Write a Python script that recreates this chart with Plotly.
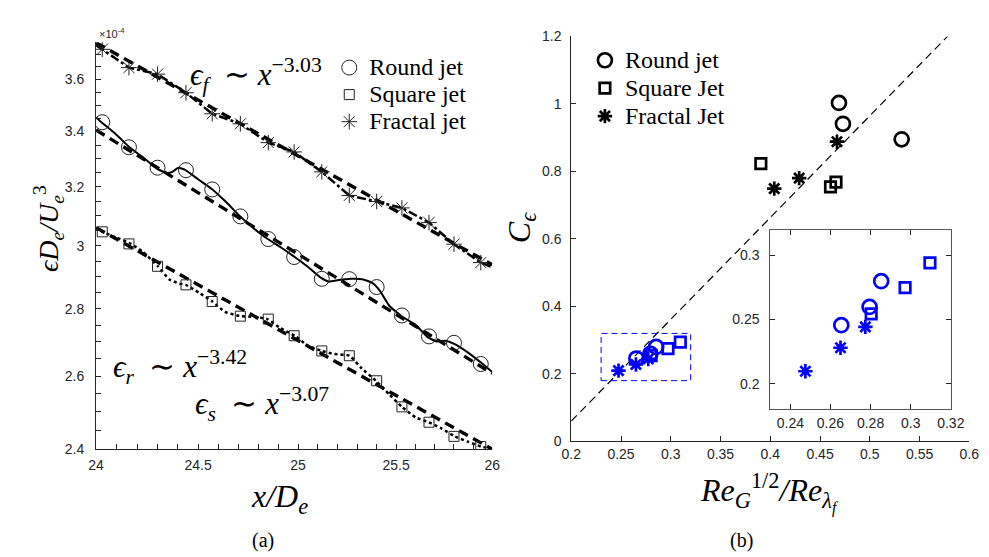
import math
import plotly.graph_objects as go

# ---------------- Panel (a): dissipation vs x/D_e (values in units of 1e-4) ----------------
marker_x = [24.03, 24.16, 24.30, 24.44, 24.57, 24.71, 24.85, 24.98,
            25.12, 25.26, 25.40, 25.53, 25.67, 25.80, 25.94]
round_marker_y = [3.435, 3.342, 3.268, 3.259, 3.191, 3.098, 3.022, 2.963,
                  2.893, 2.892, 2.867, 2.779, 2.716, 2.697, 2.635]
square_marker_y = [3.046, 3.006, 2.933, 2.874, 2.822, 2.777, 2.768, 2.718,
                   2.673, 2.659, 2.587, 2.514, 2.472, 2.434, 2.407]
fractal_marker_y = [3.721, 3.647, 3.621, 3.548, 3.467, 3.429, 3.359, 3.325,
                    3.253, 3.170, 3.149, 3.127, 3.077, 3.005, 2.945]

round_line_x = [24.000, 24.026, 24.095, 24.164, 24.234, 24.301, 24.344, 24.373, 24.402,
                24.436, 24.503, 24.571, 24.639, 24.708, 24.776, 24.845, 24.914, 24.983,
                25.052, 25.119, 25.156, 25.206, 25.266, 25.326, 25.376, 25.416, 25.466,
                25.532, 25.598, 25.663, 25.709, 25.755, 25.801, 25.872, 25.939, 26.000]
round_line_y = [3.453, 3.435, 3.391, 3.341, 3.302, 3.263, 3.249, 3.253, 3.268,
                3.260, 3.225, 3.191, 3.147, 3.099, 3.058, 3.023, 2.994, 2.963,
                2.930, 2.895, 2.884, 2.889, 2.893, 2.892, 2.881, 2.856, 2.808,
                2.775, 2.752, 2.714, 2.701, 2.703, 2.694, 2.669, 2.640, 2.612]

square_line_x = [24.000, 24.032, 24.095, 24.170, 24.230, 24.302, 24.358, 24.407, 24.439,
                 24.503, 24.571, 24.633, 24.711, 24.780, 24.845, 24.910, 24.983, 25.050,
                 25.120, 25.183, 25.261, 25.324, 25.396, 25.466, 25.530, 25.601, 25.669,
                 25.736, 25.804, 25.872, 25.941, 26.000]
square_line_y = [3.059, 3.046, 3.028, 3.006, 2.979, 2.933, 2.891, 2.878, 2.874,
                 2.850, 2.822, 2.790, 2.777, 2.775, 2.768, 2.741, 2.718, 2.688,
                 2.673, 2.664, 2.659, 2.622, 2.587, 2.548, 2.514, 2.485, 2.472,
                 2.455, 2.434, 2.420, 2.407, 2.400]

fractal_line_x = [24.00, 24.03, 24.16, 24.30, 24.44, 24.57, 24.71, 24.85, 24.98,
                  25.12, 25.26, 25.40, 25.53, 25.67, 25.80, 25.94, 26.00]
fractal_line_y = [3.737, 3.721, 3.647, 3.621, 3.548, 3.467, 3.429, 3.359, 3.325,
                  3.253, 3.170, 3.149, 3.127, 3.077, 3.005, 2.945, 2.930]

fit_x = [24.0, 26.0]
round_fit_y = [3.406, 2.608]
square_fit_y = [3.060, 2.400]
fractal_fit_y = [3.748, 2.938]

a_xticks = [24, 24.5, 25, 25.5, 26]
a_xticklabels = ["24", "24.5", "25", "25.5", "26"]
a_xminor = [24.1, 24.2, 24.3, 24.4, 24.6, 24.7, 24.8, 24.9, 25.1, 25.2, 25.3, 25.4,
            25.6, 25.7, 25.8, 25.9]
a_yticks = [2.4, 2.6, 2.8, 3.0, 3.2, 3.4, 3.6]
a_yticklabels = ["2.4", "2.6", "2.8", "3", "3.2", "3.4", "3.6"]
a_yminor = [2.45, 2.5, 2.55, 2.65, 2.7, 2.75, 2.85, 2.9, 2.95, 3.05, 3.1, 3.15,
            3.25, 3.3, 3.35, 3.45, 3.5, 3.55, 3.65, 3.7]
a_xrange = [24, 26]
a_yrange = [2.4, 3.75]

# ---------------- Panel (b): C_eps vs Re_G^1/2 / Re_lambda ----------------
b_round_x = [0.469, 0.473, 0.532]
b_round_y = [1.003, 0.941, 0.895]
b_square_x = [0.3905, 0.4605, 0.466]
b_square_y = [0.823, 0.754, 0.768]
b_fractal_x = [0.404, 0.429, 0.467]
b_fractal_y = [0.749, 0.780, 0.888]

blue_round_x = [0.2654, 0.2795, 0.2853]
blue_round_y = [0.2456, 0.2598, 0.2799]
blue_square_x = [0.2803, 0.2972, 0.3096]
blue_square_y = [0.2544, 0.2749, 0.2942]
blue_fractal_x = [0.2475, 0.2650, 0.2774]
blue_fractal_y = [0.2097, 0.2280, 0.2443]

diag_x = [0.2, 0.578]
diag_y = [0.06, 1.2]
zoom_box_x = [0.23, 0.32]
zoom_box_y = [0.18, 0.32]

b_xticks = [0.2, 0.25, 0.3, 0.35, 0.4, 0.45, 0.5, 0.55, 0.6]
b_xticklabels = ["0.2", "0.25", "0.3", "0.35", "0.4", "0.45", "0.5", "0.55", "0.6"]
b_yticks = [0, 0.2, 0.4, 0.6, 0.8, 1.0, 1.2]
b_yticklabels = ["0", "0.2", "0.4", "0.6", "0.8", "1", "1.2"]
inset_xticks = [0.24, 0.26, 0.28, 0.30, 0.32]
inset_xticklabels = ["0.24", "0.26", "0.28", "0.3", "0.32"]
inset_yticks = [0.20, 0.25, 0.30]
inset_yticklabels = ["0.2", "0.25", "0.3"]

# ---------------- figure ----------------
W, H = 989, 557
AX = "#262626"
SERIF = "Liberation Serif"
SANS = "Liberation Sans"
BLUE = "#0000ff"


def px(xp):
    return xp / W


def py(yp):
    return 1 - yp / H


def big(name, size=24):
    return '<span style="font-size:%dpx">%s</span>' % (size, name)


fig = go.Figure()

# fits (panel a)
for fy in (round_fit_y, square_fit_y, fractal_fit_y):
    fig.add_trace(go.Scatter(x=fit_x, y=fy, mode="lines", xaxis="x", yaxis="y",
                             line=dict(color="black", width=3.4, dash="10px,6px"),
                             showlegend=False, hoverinfo="skip"))
# data lines
fig.add_trace(go.Scatter(x=round_line_x, y=round_line_y, mode="lines", xaxis="x", yaxis="y",
                         line=dict(color="black", width=2, shape="spline", smoothing=0.4),
                         showlegend=False))
fig.add_trace(go.Scatter(x=square_line_x, y=square_line_y, mode="lines", xaxis="x", yaxis="y",
                         line=dict(color="black", width=2.5, dash="dot", shape="spline", smoothing=0.4),
                         showlegend=False))
fig.add_trace(go.Scatter(x=fractal_line_x, y=fractal_line_y, mode="lines", xaxis="x", yaxis="y",
                         line=dict(color="black", width=2.5, dash="dashdot"),
                         showlegend=False))
# markers + legend (panel a)
fig.add_trace(go.Scatter(x=marker_x, y=round_marker_y, mode="markers", xaxis="x", yaxis="y",
                         name=big("Round jet"), legend="legend",
                         marker=dict(symbol="circle-open", size=15, color="#222", line=dict(width=1))))
fig.add_trace(go.Scatter(x=marker_x, y=square_marker_y, mode="markers", xaxis="x", yaxis="y",
                         name=big("Square jet"), legend="legend",
                         marker=dict(symbol="square-open", size=10, color="#222", line=dict(width=1))))
fig.add_trace(go.Scatter(x=marker_x, y=fractal_marker_y, mode="markers", xaxis="x", yaxis="y",
                         name=big("Fractal jet"), legend="legend",
                         marker=dict(symbol="asterisk-open", size=13, color="#222", line=dict(width=1))))

# panel b
fig.add_trace(go.Scatter(x=diag_x, y=diag_y, mode="lines", xaxis="x2", yaxis="y2",
                         line=dict(color="black", width=1.2, dash="8px,5px"), showlegend=False))
fig.add_trace(go.Scatter(
    x=[zoom_box_x[0], zoom_box_x[1], zoom_box_x[1], zoom_box_x[0], zoom_box_x[0]],
    y=[zoom_box_y[0], zoom_box_y[0], zoom_box_y[1], zoom_box_y[1], zoom_box_y[0]],
    mode="lines", xaxis="x2", yaxis="y2",
    line=dict(color=BLUE, width=1, dash="6px,4px"), showlegend=False))
fig.add_trace(go.Scatter(x=b_round_x, y=b_round_y, mode="markers", xaxis="x2", yaxis="y2",
                         name=big("Round jet"), legend="legend2",
                         marker=dict(symbol="circle-open", size=14, color="black", line=dict(width=2.7))))
fig.add_trace(go.Scatter(x=b_square_x, y=b_square_y, mode="markers", xaxis="x2", yaxis="y2",
                         name=big("Square Jet"), legend="legend2",
                         marker=dict(symbol="square-open", size=10.5, color="black", line=dict(width=2.7))))
fig.add_trace(go.Scatter(x=b_fractal_x, y=b_fractal_y, mode="markers", xaxis="x2", yaxis="y2",
                         name=big("Fractal Jet"), legend="legend2",
                         marker=dict(symbol="asterisk-open", size=12, color="black", line=dict(width=2.7))))
for ax_x, ax_y in (("x2", "y2"), ("x3", "y3")):
    fig.add_trace(go.Scatter(x=blue_round_x, y=blue_round_y, mode="markers", xaxis=ax_x, yaxis=ax_y,
                             showlegend=False,
                             marker=dict(symbol="circle-open", size=14, color=BLUE, line=dict(width=2.7))))
    fig.add_trace(go.Scatter(x=blue_square_x, y=blue_square_y, mode="markers", xaxis=ax_x, yaxis=ax_y,
                             showlegend=False,
                             marker=dict(symbol="square-open", size=10.5, color=BLUE, line=dict(width=2.7))))
    fig.add_trace(go.Scatter(x=blue_fractal_x, y=blue_fractal_y, mode="markers", xaxis=ax_x, yaxis=ax_y,
                             showlegend=False,
                             marker=dict(symbol="asterisk-open", size=12, color=BLUE, line=dict(width=2.7))))

tickfont = dict(family=SANS, size=14, color=AX)
common = dict(showgrid=False, zeroline=False, showline=True, linecolor=AX, linewidth=1,
              ticks="inside", ticklen=5, tickcolor=AX, tickwidth=1, tickfont=tickfont)

fig.update_layout(
    width=W, height=H,
    margin=dict(l=0, r=0, t=0, b=0),
    paper_bgcolor="white", plot_bgcolor="white",
    xaxis=dict(domain=[px(80), px(486)], anchor="y", type="log",
               range=[math.log10(a_xrange[0]), math.log10(a_xrange[1])],
               tickmode="array", tickvals=a_xticks, ticktext=a_xticklabels,
               minor=dict(tickmode="array", tickvals=a_xminor, ticks="inside", ticklen=5,
                          tickcolor=AX, tickwidth=1, showgrid=False),
               ticklabelstandoff=3, **common),
    yaxis=dict(domain=[py(446), py(27)], anchor="x", type="log",
               range=[math.log10(a_yrange[0]), math.log10(a_yrange[1])],
               tickmode="array", tickvals=a_yticks, ticktext=a_yticklabels,
               minor=dict(tickmode="array", tickvals=a_yminor, ticks="inside", ticklen=5,
                          tickcolor=AX, tickwidth=1, showgrid=False),
               ticklabelstandoff=8, **common),
    xaxis2=dict(domain=[px(567), px(975)], anchor="y2", range=[0.2, 0.6],
                tickmode="array", tickvals=b_xticks, ticktext=b_xticklabels,
                ticklabelstandoff=0, **common),
    yaxis2=dict(domain=[py(438), py(21)], anchor="x2", range=[0, 1.2],
                tickmode="array", tickvals=b_yticks, ticktext=b_yticklabels,
                ticklabelstandoff=6, **common),
    xaxis3=dict(domain=[px(771), px(956)], anchor="y3", range=[0.23, 0.32],
                tickmode="array", tickvals=inset_xticks, ticktext=inset_xticklabels,
                mirror="ticks", ticklabelstandoff=1,
                **{**common, "linecolor": "#555"}),
    yaxis3=dict(domain=[py(405), py(220)], anchor="x3", range=[0.18, 0.32],
                tickmode="array", tickvals=inset_yticks, ticktext=inset_yticklabels,
                mirror="ticks", ticklabelstandoff=7,
                **{**common, "linecolor": "#555"}),
    legend=dict(x=px(319), y=py(34), xanchor="left", yanchor="top",
                bgcolor="rgba(0,0,0,0)", font=dict(family=SERIF, size=18.5, color="black"),
                tracegroupgap=0, itemsizing="trace"),
    legend2=dict(x=px(581), y=py(26), xanchor="left", yanchor="top",
                 bgcolor="rgba(0,0,0,0)", font=dict(family=SERIF, size=19.2, color="black"),
                 tracegroupgap=0, itemsizing="trace"),
)

ann = []
math_font = dict(family=SERIF, size=31, color="black")
SIM = "&nbsp;&nbsp;∼&nbsp;"
ann.append(dict(text="×10<sup>-4</sup>", x=px(81), y=py(18), xref="paper", yref="paper",
                xanchor="left", yanchor="middle", showarrow=False,
                font=dict(family=SANS, size=11, color=AX)))
ann.append(dict(text="<i>ϵ</i><sub><i>f</i></sub>" + SIM + "<i>x</i><sup>−3.03</sup>",
                x=px(174), y=py(61), xref="paper", yref="paper", xanchor="left", yanchor="middle",
                showarrow=False, font=math_font))
ann.append(dict(text="<i>ϵ</i><sub><i>r</i></sub>" + SIM + "<i>x</i><sup>−3.42</sup>",
                x=px(95), y=py(361), xref="paper", yref="paper", xanchor="left", yanchor="middle",
                showarrow=False, font=math_font))
ann.append(dict(text="<i>ϵ</i><sub><i>s</i></sub>" + SIM + "<i>x</i><sup>−3.07</sup>",
                x=px(179), y=py(399), xref="paper", yref="paper", xanchor="left", yanchor="middle",
                showarrow=False, font=math_font))
ann.append(dict(text="<i>x/D</i><sub><i>e</i></sub>", x=px(268), y=py(497), xref="paper", yref="paper",
                xanchor="center", yanchor="middle", showarrow=False,
                font=dict(family=SERIF, size=32, color="black")))
ann.append(dict(text="<i>ϵD</i><sub><i>e</i></sub><i>/U</i><sub><i>e</i></sub><sup>3</sup>",
                x=px(32), y=py(219), xref="paper", yref="paper", textangle=-90,
                xanchor="center", yanchor="middle", showarrow=False,
                font=dict(family=SERIF, size=28, color="black")))
ann.append(dict(text="<i>Re</i><sub><i>G</i></sub><sup>1/2</sup><i>/Re</i><sub><i>λ<sub>f</sub></i></sub>",
                x=px(770), y=py(491), xref="paper", yref="paper",
                xanchor="center", yanchor="middle", showarrow=False,
                font=dict(family=SERIF, size=32, color="black")))
ann.append(dict(text="<i>C</i><sub><i>ϵ</i></sub>", x=px(516), y=py(218), xref="paper", yref="paper",
                textangle=-90, xanchor="center", yanchor="middle", showarrow=False,
                font=dict(family=SERIF, size=32, color="black")))
ann.append(dict(text="(a)", x=px(251), y=py(540), xref="paper", yref="paper",
                xanchor="center", yanchor="middle", showarrow=False,
                font=dict(family=SERIF, size=20, color="black")))
ann.append(dict(text="(b)", x=px(742), y=py(540), xref="paper", yref="paper",
                xanchor="center", yanchor="middle", showarrow=False,
                font=dict(family=SERIF, size=20, color="black")))
fig.update_layout(annotations=ann)

fig.write_html("out.html")
